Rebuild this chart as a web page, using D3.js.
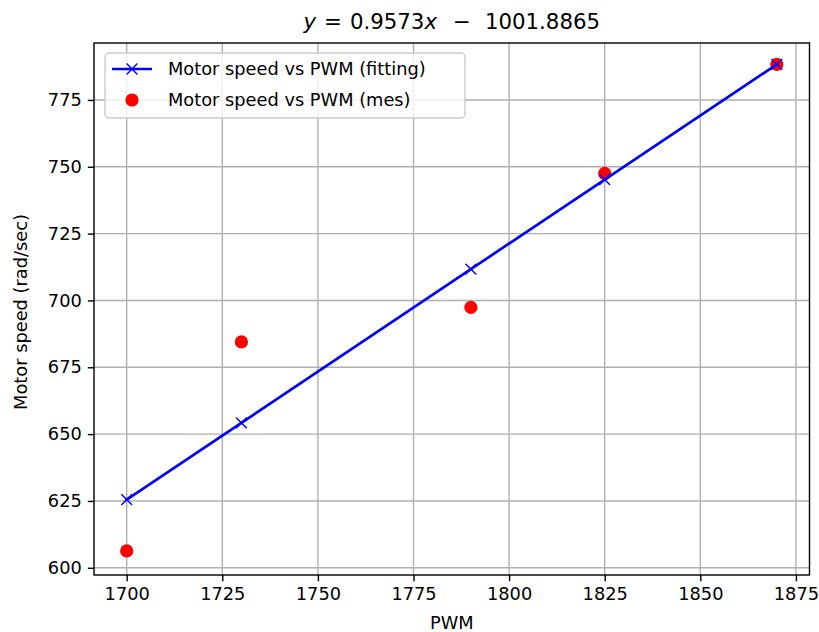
<!DOCTYPE html>
<html>
<head>
<meta charset="utf-8">
<script src="https://cdn.jsdelivr.net/npm/d3@7"></script>
<style>
  html, body { margin: 0; padding: 0; background: #fff; }
  text { font-family: "DejaVu Sans", sans-serif; fill: #000; }
</style>
</head>
<body>
<svg id="chart" width="819" height="632"></svg>
<script>
// PWM inputs and motor speeds (rad/sec)
const pwm = [1700, 1730, 1790, 1825, 1870];
const speedMeasured = [606.3, 684.5, 697.4, 747.5, 788.3];
const speedFitted = [625.5, 654.2, 711.7, 745.2, 788.3];
const xTicks = [1700, 1725, 1750, 1775, 1800, 1825, 1850, 1875];
const yTicks = [600, 625, 650, 675, 700, 725, 750, 775];
// title pieces; gap = extra space before the piece (math-style operator spacing)
const titleParts = [
  { t: "y", italic: true, gap: 0 },
  { t: "=", italic: false, gap: 8 },
  { t: "0.9573", italic: false, gap: 8 },
  { t: "x", italic: true, gap: 0 },
  { t: "\u2212", italic: false, gap: 16 },
  { t: "1001.8865", italic: false, gap: 14 }
];
const legendLabels = ["Motor speed vs PWM (fitting)", "Motor speed vs PWM (mes)"];

const svg = d3.select("#chart");
const plot = { left: 94, right: 809.5, top: 43, bottom: 575 };

const x = d3.scaleLinear().domain([1691.45, 1878.55]).range([plot.left, plot.right]);
const y = d3.scaleLinear().domain([597.3, 796.3]).range([plot.bottom, plot.top]);

const fontSize = 17.8;
const dotR = 6.6;

// grid
const grid = svg.append("g");
grid.selectAll("line.gx").data(xTicks).join("line")
  .attr("x1", d => x(d)).attr("x2", d => x(d))
  .attr("y1", plot.top).attr("y2", plot.bottom)
  .attr("stroke", "#b0b0b0").attr("stroke-width", 1.4);
grid.selectAll("line.gy").data(yTicks).join("line")
  .attr("y1", d => y(d)).attr("y2", d => y(d))
  .attr("x1", plot.left).attr("x2", plot.right)
  .attr("stroke", "#b0b0b0").attr("stroke-width", 1.4);

// axes
const xAxis = d3.axisBottom(x).tickValues(xTicks).tickSize(6.2).tickPadding(6).tickFormat(d3.format("d"));
const yAxis = d3.axisLeft(y).tickValues(yTicks).tickSize(6.2).tickPadding(6).tickFormat(d3.format("d"));

const gx = svg.append("g").attr("transform", `translate(0,${plot.bottom})`).call(xAxis);
const gy = svg.append("g").attr("transform", `translate(${plot.left},0)`).call(yAxis);
[gx, gy].forEach(g => {
  g.select(".domain").remove();
  g.selectAll(".tick line").attr("stroke", "#000").attr("stroke-width", 1.4);
  g.selectAll(".tick text").attr("font-size", fontSize).attr("font-family", "DejaVu Sans").attr("fill", "#1a1a1a");
});

// measured points (below the fitted line)
svg.append("g").selectAll("circle").data(pwm).join("circle")
  .attr("cx", d => x(d))
  .attr("cy", (d, i) => y(speedMeasured[i]))
  .attr("r", dotR)
  .attr("fill", "#ff0000");

// fitted line with x markers
const line = d3.line().x(d => x(d)).y((d, i) => y(speedFitted[i]));
svg.append("path").datum(pwm)
  .attr("d", line)
  .attr("fill", "none").attr("stroke", "#0000ff").attr("stroke-width", 2.7)
  .attr("stroke-linejoin", "round").attr("stroke-linecap", "square");

const m = 5.4;
const crossPath = (cx, cy) => `M${cx - m},${cy - m}L${cx + m},${cy + m}M${cx - m},${cy + m}L${cx + m},${cy - m}`;
svg.append("g").selectAll("path").data(pwm).join("path")
  .attr("d", (d, i) => crossPath(x(d), y(speedFitted[i])))
  .attr("stroke", "#0000ff").attr("stroke-width", 1.4).attr("fill", "none");

// spines
svg.append("rect")
  .attr("x", plot.left).attr("y", plot.top)
  .attr("width", plot.right - plot.left).attr("height", plot.bottom - plot.top)
  .attr("fill", "none").attr("stroke", "#000").attr("stroke-width", 1.4);

// title
const title = svg.append("text")
  .attr("x", (plot.left + plot.right) / 2).attr("y", 28.5)
  .attr("text-anchor", "middle").attr("font-size", 21.3).attr("fill", "#1a1a1a");
titleParts.forEach(p => {
  title.append("tspan").text(p.t)
    .attr("dx", p.gap)
    .attr("font-style", p.italic ? "italic" : "normal");
});

// axis labels
svg.append("text")
  .attr("x", (plot.left + plot.right) / 2).attr("y", 629)
  .attr("text-anchor", "middle").attr("font-size", fontSize).attr("fill", "#1a1a1a").text("PWM");
svg.append("text")
  .attr("transform", `translate(27,${(plot.top + plot.bottom) / 2 + 3}) rotate(-90)`)
  .attr("text-anchor", "middle").attr("font-size", fontSize).attr("fill", "#1a1a1a").text("Motor speed (rad/sec)");

// legend
const lg = svg.append("g");
lg.append("rect")
  .attr("x", 105).attr("y", 53).attr("width", 360).attr("height", 65)
  .attr("rx", 4).attr("ry", 4)
  .attr("fill", "#fff").attr("fill-opacity", 0.8)
  .attr("stroke", "#cccccc").attr("stroke-width", 1.4);
const row1 = 69, row2 = 100;
lg.append("line").attr("x1", 112).attr("x2", 152).attr("y1", row1).attr("y2", row1)
  .attr("stroke", "#0000ff").attr("stroke-width", 2.7);
lg.append("path").attr("d", crossPath(132, row1))
  .attr("stroke", "#0000ff").attr("stroke-width", 1.4).attr("fill", "none");
lg.append("circle").attr("cx", 132).attr("cy", row2).attr("r", dotR).attr("fill", "#ff0000");
lg.selectAll("text").data(legendLabels).join("text")
  .attr("x", 168).attr("y", (d, i) => (i === 0 ? row1 : row2) + 6.4)
  .attr("font-size", fontSize).attr("fill", "#1a1a1a").text(d => d);
</script>
</body>
</html>
